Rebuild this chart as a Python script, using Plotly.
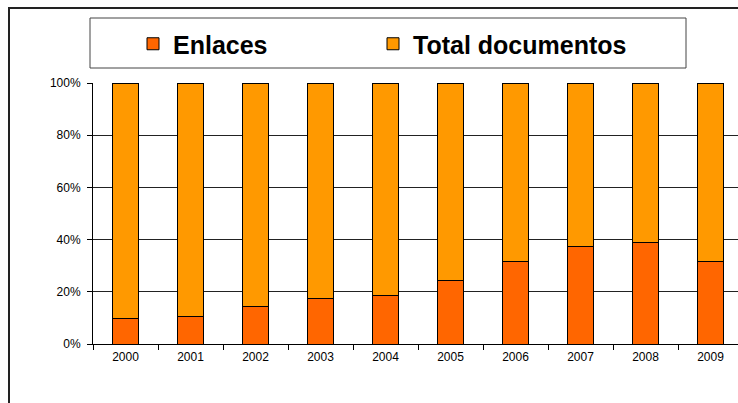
import plotly.graph_objects as go

years = ["2000", "2001", "2002", "2003", "2004", "2005", "2006", "2007", "2008", "2009"]
enlaces = [9.6, 10.7, 14.3, 17.4, 18.6, 24.3, 31.6, 37.2, 39.0, 31.6]
total_documentos = [90.4, 89.3, 85.7, 82.6, 81.4, 75.7, 68.4, 62.8, 61.0, 68.4]
y_ticks = [0, 20, 40, 60, 80, 100]
y_ticktext = ["0%", "20%", "40%", "60%", "80%", "100%"]

W, H = 738, 403
L, R, T, B = 93, 0, 83, 59
pw = W - L - R
ph = H - T - B

def px(x):
    return (x - L) / pw

def py(y):
    return (H - B - y) / ph

legend_font = dict(size=25, weight="bold", family="Liberation Sans, Arial, sans-serif", color="#000000")

fig = go.Figure()
fig.add_trace(go.Bar(x=years, y=enlaces, name="Enlaces", legend="legend",
                     marker=dict(color="#FF6600", line=dict(color="#000000", width=1))))
fig.add_trace(go.Bar(x=years, y=total_documentos, name="Total documentos", legend="legend2",
                     marker=dict(color="#FF9900", line=dict(color="#000000", width=1))))

fig.update_layout(
    width=W, height=H,
    margin=dict(l=L, r=R, t=T, b=B, pad=0),
    barmode="stack", barnorm="percent", bargap=0.585,
    plot_bgcolor="white", paper_bgcolor="white",
    font=dict(family="Liberation Sans, Arial, sans-serif", size=12, color="#000000"),
    showlegend=True,
    legend=dict(orientation="h", x=px(133), xanchor="left", y=py(44), yanchor="middle",
                font=legend_font, bgcolor="rgba(0,0,0,0)", borderwidth=0),
    legend2=dict(orientation="h", x=px(373), xanchor="left", y=py(44), yanchor="middle",
                 font=legend_font, bgcolor="rgba(0,0,0,0)", borderwidth=0),
    xaxis=dict(range=[-0.5, -0.5 + pw / 65.0], showgrid=False, showline=True,
               linecolor="#000000", linewidth=1, ticks="outside", ticklen=5,
               tickcolor="#000000", tickson="boundaries", ticklabelstandoff=2,
               tickfont=dict(size=12)),
    yaxis=dict(range=[0, 100], tickvals=y_ticks, ticktext=y_ticktext,
               showgrid=True, gridcolor="#222222", gridwidth=1,
               showline=True, linecolor="#000000", linewidth=1,
               ticks="outside", ticklen=5, tickcolor="#000000",
               ticklabelstandoff=4,
               tickfont=dict(size=12), zeroline=False),
    shapes=[
        dict(type="rect", xref="paper", yref="paper",
             x0=px(9), x1=px(760), y0=py(430), y1=py(8),
             line=dict(color="#222222", width=2), fillcolor="rgba(0,0,0,0)", layer="above"),
        dict(type="rect", xref="paper", yref="paper",
             x0=px(90), x1=px(686), y0=py(68), y1=py(18),
             line=dict(color="#444444", width=1), fillcolor="rgba(0,0,0,0)", layer="above"),
    ],
)

fig.write_html("out.html", config={"displayModeBar": False},
               post_script="document.body.style.margin='0px';document.body.style.overflow='hidden';")
